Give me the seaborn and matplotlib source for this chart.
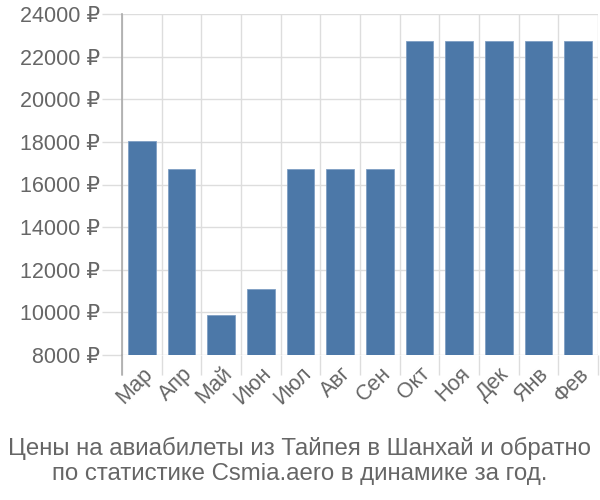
import matplotlib
matplotlib.use("Agg")
import matplotlib.pyplot as plt
import matplotlib.transforms as mtrans
import seaborn as sns
import pandas as pd
import numpy as np
from matplotlib.ticker import FixedLocator

months = ["Мар", "Апр", "Май", "Июн", "Июл", "Авг", "Сен", "Окт", "Ноя", "Дек", "Янв", "Фев"]
prices = [18050, 16750, 9900, 11100, 16750, 16750, 16750, 22750, 22750, 22750, 22750, 22750]
yticks = [8000, 10000, 12000, 14000, 16000, 18000, 20000, 22000, 24000]
title = "Цены на авиабилеты из Тайпея в Шанхай и обратно\nпо статистике Csmia.aero в динамике за год."

sns.set_theme(style="white")
plt.rcParams['font.family'] = ['Liberation Sans', 'DejaVu Sans']

df = pd.DataFrame({"month": months, "price": prices})

fig = plt.figure(figsize=(6, 5), dpi=100)
ax = fig.add_axes([122/600, 1 - 355/500, 476/600, 341/500])

sns.barplot(data=df, x="month", y="price", color="#4c78a8", saturation=1, width=0.7,
            edgecolor="#7f9fc4", linewidth=0.6, ax=ax, zorder=3)

ax.set_ylim(8000, 24000)
ax.set_xlim(-0.5, len(months) - 0.5)
ax.set_yticks(yticks)
ax.set_yticklabels([f"{v} ₽" for v in yticks], fontsize=15.5, color="#666666")
ax.set_xticks(range(len(months)))
ax.set_xticklabels(months, rotation=45, ha="right", rotation_mode="anchor", fontsize=15.5, color="#666666")
ax.xaxis.set_minor_locator(FixedLocator(np.arange(-0.5, len(months), 1.0)))

offset = mtrans.ScaledTranslation(-5/100, -4/100, fig.dpi_scale_trans)
for lbl in ax.get_xticklabels():
    lbl.set_transform(lbl.get_transform() + offset)

ax.tick_params(axis="y", which="major", length=14.4, color="#dddddd", width=1, pad=1.5, left=True)
ax.tick_params(axis="x", which="major", length=0, pad=6)
ax.tick_params(axis="x", which="minor", length=14.4, color="#dddddd", width=1, bottom=True)

ax.grid(axis="y", which="major", color="#dddddd", linewidth=1, zorder=0)
ax.grid(axis="x", which="minor", color="#dddddd", linewidth=1, zorder=0)
ax.set_axisbelow(True)

for s in ["top", "right", "bottom"]:
    ax.spines[s].set_visible(False)
ax.spines["left"].set_color("#aaaaaa")
ax.spines["left"].set_linewidth(1.2)
ax.plot([-0.5, -0.5], [0, -20/341], transform=ax.get_xaxis_transform(),
        color="#aaaaaa", lw=1.2, clip_on=False, zorder=4)

ax.set_xlabel("")
ax.set_ylabel("")

fig.text(0.5, 1 - 461/500, title, ha="center", va="center", fontsize=17.3, color="#666666", linespacing=1.15)

fig.savefig("out.png", dpi=100)
